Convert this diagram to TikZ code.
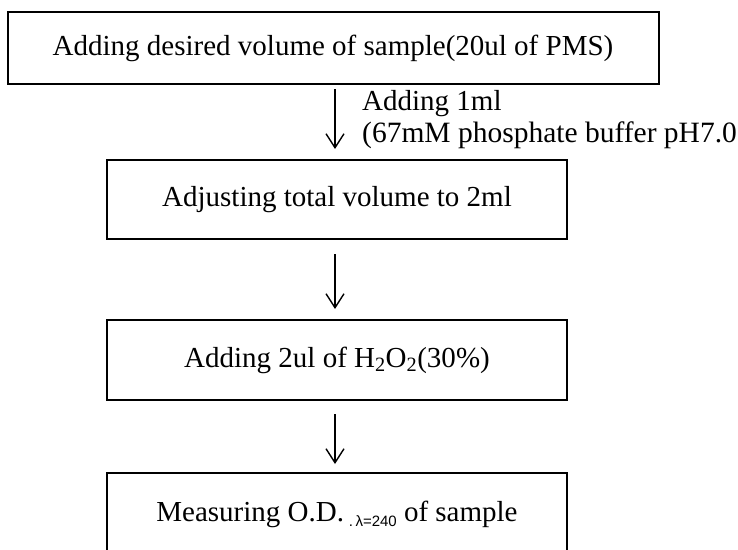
\documentclass[tikz,border=0pt]{standalone}
\usepackage{fontspec}
\setmainfont{Liberation Serif}
\newfontfamily\subsans{Liberation Sans}
\usetikzlibrary{arrows.meta,calc}
\begin{document}
\begin{tikzpicture}[x=1pt,y=-1pt,
  stepbox/.style={draw, line width=2pt, minimum width=460pt, minimum height=79pt, inner sep=0pt, font=\fontsize{29}{33}\selectfont},
  flow/.style={line width=1.4pt, -{Straight Barb[length=14pt,width=18pt,line width=1.4pt]}},
  lbl/.style={anchor=base west, inner sep=0pt, font=\fontsize{29}{33}\selectfont}]
\useasboundingbox (0,0) rectangle (738,549);
\clip (0,0) rectangle (738,549);
\node[stepbox, minimum width=651pt, minimum height=72pt] (s1) at (333,48) {Adding desired volume of sample(20ul of PMS)};
\node[stepbox] (s2) at (337,199.5) {Adjusting total volume to 2ml};
\node[stepbox, minimum height=80pt] (s3) at (337,360) {Adding 2ul of H\textsubscript{2}O\textsubscript{2}(30\%)};
\node[stepbox, minimum height=82pt] (s4) at (337,514) {Measuring O.D.\,{\subsans\fontsize{15}{18}\selectfont\raisebox{-5pt}{.\,λ=240}} of sample};
\draw[flow] ($(s1.south)+(2,4)$) -- ($(s2.north)+(-2,-10)$);
\draw[flow] ($(s2.south)+(-2,14)$) -- ($(s3.north)+(-2,-10)$);
\draw[flow] ($(s3.south)+(-2,13)$) -- ($(s4.north)+(-2,-8)$);
\node[lbl] (l1) at (362,110) {Adding 1ml};
\node[lbl, font=\fontsize{29.5}{33}\selectfont] (l2) at (362,142) {(67mM phosphate buffer pH7.0};
\end{tikzpicture}
\end{document}
